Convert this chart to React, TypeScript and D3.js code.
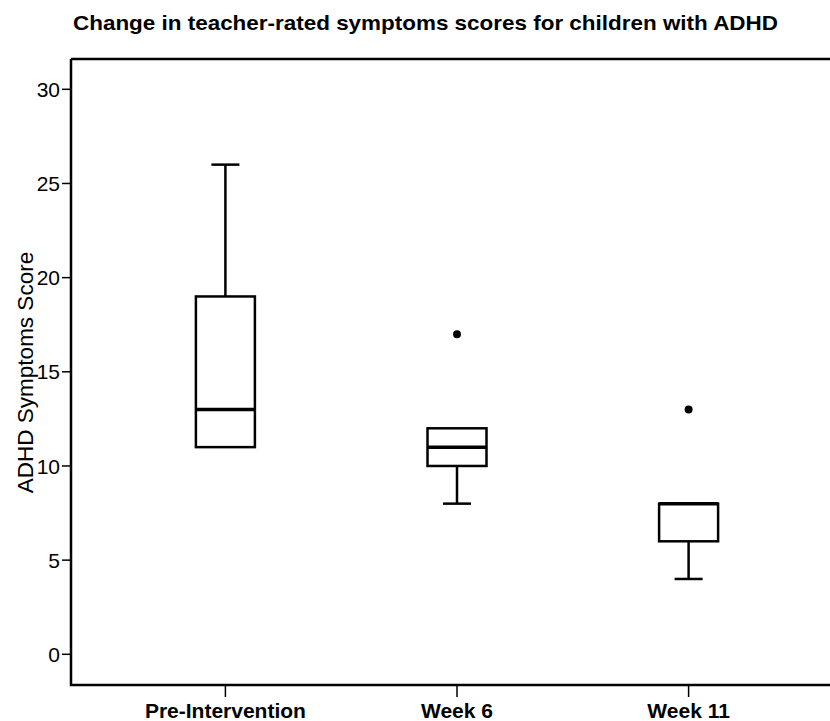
import { useEffect, useRef } from "react";
import * as d3 from "d3";

const categories = ["Pre-Intervention", "Week 6", "Week 11"];
const lowerWhisker = [11, 8, 4];
const q1 = [11, 10, 6];
const median = [13, 11, 8];
const q3 = [19, 12, 8];
const upperWhisker = [26, 12, 8];
const outliers = [[], [17], [13]];
const yTicks = [0, 5, 10, 15, 20, 25, 30];

const title = "Change in teacher-rated symptoms scores for children with ADHD";
const yLabel = "ADHD Symptoms Score";

export default function App() {
  const ref = useRef<SVGSVGElement>(null);

  useEffect(() => {
    if (!ref.current) return;
    const svg = d3.select(ref.current);
    svg.selectAll("*").remove();

    const left = 71;
    const top = 59;
    const bottom = 685;
    const font = "'Liberation Sans', Arial, sans-serif";

    const x = d3.scalePoint<string>().domain(categories).range([left, 843]).padding(2 / 3);
    // 0 sits at 654.3 and 30 at 89.3
    const y = d3.scaleLinear().domain([0, 30]).range([654.3, 89.3]);

    // title, a bit wider than the font gives
    svg.append("text")
      .attr("x", 73)
      .attr("y", 30)
      .attr("font-family", font)
      .attr("font-size", 20.5)
      .attr("font-weight", "bold")
      .attr("textLength", 705)
      .attr("lengthAdjust", "spacingAndGlyphs")
      .text(title);

    // frame
    const frame = svg.append("g").attr("stroke", "#000").attr("stroke-width", 2.5).attr("fill", "none");
    frame.append("path").attr("d", `M${left},${top}V${bottom}H840M${left},${top}H840`);

    // y axis ticks
    const yAxis = svg.append("g").attr("font-family", font).attr("font-size", 21);
    yTicks.forEach((t) => {
      yAxis.append("line")
        .attr("x1", 62).attr("x2", left)
        .attr("y1", y(t)).attr("y2", y(t))
        .attr("stroke", "#000").attr("stroke-width", 1.5);
      yAxis.append("text")
        .attr("x", 60)
        .attr("y", y(t))
        .attr("dy", "0.36em")
        .attr("text-anchor", "end")
        .text(t);
    });

    svg.append("text")
      .attr("transform", `translate(33,${(250 + 495) / 2}) rotate(-90)`)
      .attr("text-anchor", "middle")
      .attr("font-family", font)
      .attr("font-size", 22.5)
      .text(yLabel);

    // x axis ticks + labels
    const xAxis = svg.append("g").attr("font-family", font).attr("font-size", 21).attr("font-weight", "bold");
    categories.forEach((c) => {
      xAxis.append("line")
        .attr("x1", x(c)!).attr("x2", x(c)!)
        .attr("y1", bottom).attr("y2", 697)
        .attr("stroke", "#000").attr("stroke-width", 1.5);
      xAxis.append("text")
        .attr("x", x(c)!)
        .attr("y", 718)
        .attr("text-anchor", "middle")
        .text(c);
    });

    // boxes
    const boxW = 59;
    const capW = 28;
    const boxes = svg.append("g").attr("stroke", "#000").attr("fill", "none");
    categories.forEach((c, i) => {
      const cx = x(c)!;
      const g = boxes.append("g");
      if (upperWhisker[i] > q3[i]) {
        g.append("line").attr("x1", cx).attr("x2", cx).attr("y1", y(q3[i])).attr("y2", y(upperWhisker[i])).attr("stroke-width", 2.5);
        g.append("line").attr("x1", cx - capW / 2).attr("x2", cx + capW / 2).attr("y1", y(upperWhisker[i])).attr("y2", y(upperWhisker[i])).attr("stroke-width", 2.5);
      }
      if (lowerWhisker[i] < q1[i]) {
        g.append("line").attr("x1", cx).attr("x2", cx).attr("y1", y(q1[i])).attr("y2", y(lowerWhisker[i])).attr("stroke-width", 2.5);
        g.append("line").attr("x1", cx - capW / 2).attr("x2", cx + capW / 2).attr("y1", y(lowerWhisker[i])).attr("y2", y(lowerWhisker[i])).attr("stroke-width", 2.5);
      }
      g.append("rect")
        .attr("x", cx - boxW / 2)
        .attr("y", y(q3[i]))
        .attr("width", boxW)
        .attr("height", y(q1[i]) - y(q3[i]))
        .attr("fill", "#fff")
        .attr("stroke-width", 2.5);
      g.append("line")
        .attr("x1", cx - boxW / 2).attr("x2", cx + boxW / 2)
        .attr("y1", y(median[i])).attr("y2", y(median[i]))
        .attr("stroke-width", 3.5);
      outliers[i].forEach((o) => {
        g.append("circle").attr("cx", cx).attr("cy", y(o)).attr("r", 4).attr("fill", "#000").attr("stroke", "none");
      });
    });
  }, []);

  return (
    <svg
      ref={ref}
      width={830}
      height={721}
      style={{ position: "absolute", left: 0, top: 0, background: "#fff" }}
    />
  );
}
